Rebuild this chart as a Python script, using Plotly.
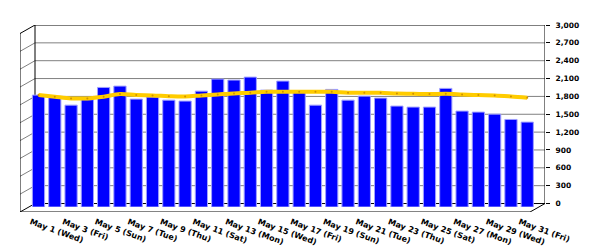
import plotly.graph_objects as go

categories = ["May 1 (Wed)", "May 2 (Thu)", "May 3 (Fri)", "May 4 (Sat)", "May 5 (Sun)",
              "May 6 (Mon)", "May 7 (Tue)", "May 8 (Wed)", "May 9 (Thu)", "May 10 (Fri)",
              "May 11 (Sat)", "May 12 (Sun)", "May 13 (Mon)", "May 14 (Tue)", "May 15 (Wed)",
              "May 16 (Thu)", "May 17 (Fri)", "May 18 (Sat)", "May 19 (Sun)", "May 20 (Mon)",
              "May 21 (Tue)", "May 22 (Wed)", "May 23 (Thu)", "May 24 (Fri)", "May 25 (Sat)",
              "May 26 (Sun)", "May 27 (Mon)", "May 28 (Tue)", "May 29 (Wed)", "May 30 (Thu)",
              "May 31 (Fri)"]

bar_values = [1877, 1839, 1709, 1800, 2006, 2028, 1810, 1844, 1793, 1777,
              1944, 2146, 2129, 2179, 1961, 2112, 1922, 1709, 1973, 1793,
              1860, 1827, 1693, 1676, 1676, 1990, 1609, 1592, 1558, 1469, 1424]

trend_values = [1880, 1850, 1822, 1822, 1850, 1894, 1877, 1872, 1860, 1855,
                1872, 1889, 1906, 1917, 1934, 1934, 1934, 1934, 1934, 1917,
                1917, 1917, 1904, 1900, 1894, 1900, 1889, 1877, 1872, 1855, 1834]

y_ticks = [0, 300, 600, 900, 1200, 1500, 1800, 2100, 2400, 2700, 3000]
x_tick_labels = categories[::2]

XFONT = dict(family="DejaVu Sans", size=8, color="#000000", weight="bold")
YFONT = dict(family="DejaVu Sans", size=7.5, color="#000000", weight="bold")

# frame geometry (pixels): back wall 510 wide, depth offset 15 px left / 8.5 px down
WALL_W = 510
DEPTH_X = 15
DEPTH_Y = 8.5

fig = go.Figure()
# invisible trace to activate the frame axes (drawn first, below the bars)
fig.add_trace(go.Scatter(x=[0, WALL_W], y=[0, 0], mode="markers", marker=dict(opacity=0),
                         xaxis="x", yaxis="y", showlegend=False, hoverinfo="skip"))
fig.add_trace(go.Bar(
    x=categories, y=bar_values,
    marker=dict(color="#0000FF", line=dict(color="#A0A0FF", width=1)),
    xaxis="x2", yaxis="y2", showlegend=False,
))
fig.add_trace(go.Scatter(
    x=categories, y=trend_values, mode="lines+markers",
    line=dict(color="#FFCC00", width=4, shape="spline", smoothing=1.0),
    marker=dict(size=2, color="#D09000"),
    xaxis="x2", yaxis="y2", showlegend=False,
))

shapes = []
line_black = dict(color="#000000", width=1)
line_gray = dict(color="#808080", width=1)
for v in y_ticks:
    edge = v in (0, 3000)
    # back wall gridline
    shapes.append(dict(type="line", xref="x", x0=0, x1=WALL_W, yref="y", y0=v, y1=v,
                       line=line_black if edge else line_gray, layer="below"))
    # left wall slanted gridline
    shapes.append(dict(type="line", xref="x", x0=-DEPTH_X, x1=0,
                       yref="y", ysizemode="pixel", yanchor=v, y0=-DEPTH_Y, y1=0,
                       line=line_black if edge else line_gray, layer="below"))
# back-left vertical edge and right axis line
for xv in (0, WALL_W):
    shapes.append(dict(type="line", xref="x", x0=xv, x1=xv, yref="y", y0=0, y1=3000,
                       line=line_black, layer="below"))
# left outer vertical edge
shapes.append(dict(type="line", xref="x", x0=-DEPTH_X, x1=-DEPTH_X,
                   yref="y", ysizemode="pixel", yanchor=0, y0=-DEPTH_Y, y1=170.5,
                   line=line_black, layer="below"))
# floor front edge and right diagonal
shapes.append(dict(type="line", xref="x", x0=-DEPTH_X, x1=WALL_W - DEPTH_X,
                   yref="y", ysizemode="pixel", yanchor=0, y0=-DEPTH_Y, y1=-DEPTH_Y,
                   line=line_black, layer="below"))
shapes.append(dict(type="line", xref="x", x0=WALL_W - DEPTH_X, x1=WALL_W,
                   yref="y", ysizemode="pixel", yanchor=0, y0=-DEPTH_Y, y1=0,
                   line=line_black, layer="below"))
# x tick marks below the floor front edge
for c in x_tick_labels:
    shapes.append(dict(type="line", xref="x2", xsizemode="pixel", xanchor=c, x0=-8, x1=-6,
                       yref="y", ysizemode="pixel", yanchor=0, y0=-12.5, y1=-8.5,
                       line=dict(color="#808080", width=1)))

fig.update_layout(
    width=600, height=250,
    margin=dict(l=20, r=55, t=25, b=38, autoexpand=False),
    paper_bgcolor="#FFFFFF", plot_bgcolor="rgba(0,0,0,0)",
    bargap=0.25,
    font=XFONT,
    shapes=shapes,
    xaxis=dict(domain=[0, 1], range=[-DEPTH_X, WALL_W], visible=False, anchor="y",
               automargin=False),
    yaxis=dict(domain=[0, 1], range=[-142.5, 3000], side="right", anchor="x",
               tickmode="array", tickvals=y_ticks, tickformat=",", ticks="outside", ticklen=4,
               tickcolor="#000000", showline=False, showgrid=False, zeroline=False,
               ticklabelstandoff=4, tickfont=YFONT, automargin=False),
    xaxis2=dict(domain=[0.0197, 0.9817], type="category", range=[-0.5, 30.5],
                tickmode="array", tickvals=x_tick_labels, ticktext=x_tick_labels,
                tickangle=20, ticks="", showline=False, showgrid=False, zeroline=False,
                ticklabelshift=-8, ticklabelstandoff=8, tickfont=XFONT, anchor="y2",
                automargin=False),
    yaxis2=dict(domain=[0.0267, 0.983], range=[0, 3000], visible=False, anchor="x2",
                automargin=False),
)
fig.write_html("out.html")
